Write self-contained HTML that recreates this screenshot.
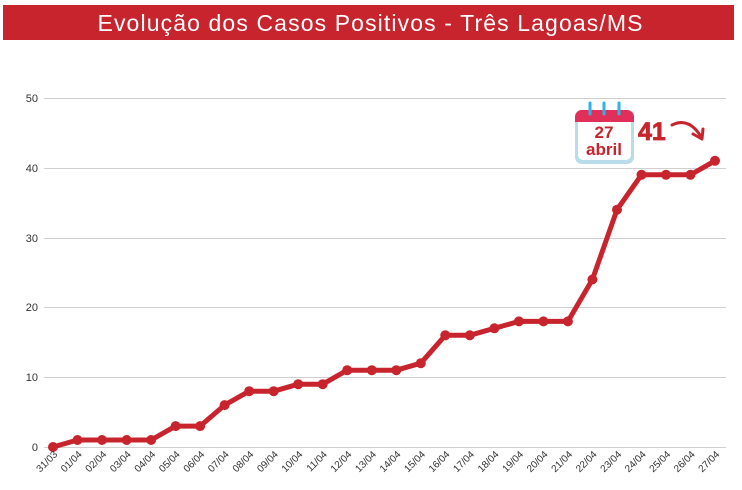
<!DOCTYPE html>
<html><head><meta charset="utf-8"><style>
body{margin:0;background:#fff;width:742px;height:485px;overflow:hidden;font-family:"Liberation Sans",sans-serif}
</style></head><body>
<svg width="742" height="485" xmlns="http://www.w3.org/2000/svg" font-family="Liberation Sans, sans-serif">
<rect x="3" y="5" width="731" height="35" fill="#c8242d"/>
<text x="370" y="31" text-anchor="middle" font-size="23" fill="#fff" textLength="545">Evolução dos Casos Positivos - Três Lagoas/MS</text>
<g stroke="#d0d0d0" stroke-width="1">
<line x1="44" y1="98.5" x2="726" y2="98.5"/>
<line x1="44" y1="168.5" x2="726" y2="168.5"/>
<line x1="44" y1="238.5" x2="726" y2="238.5"/>
<line x1="44" y1="307.5" x2="726" y2="307.5"/>
<line x1="44" y1="377.5" x2="726" y2="377.5"/>
<line x1="44" y1="447.5" x2="726" y2="447.5"/>
</g>
<g font-size="11" fill="#333" text-anchor="end">
<text x="38" y="102">50</text><text x="38" y="172">40</text><text x="38" y="242">30</text>
<text x="38" y="311">20</text><text x="38" y="381">10</text><text x="38" y="451">0</text>
</g>
<g fill="none" stroke="#c8242d" stroke-width="5" stroke-linejoin="round" stroke-linecap="round">
<polyline points="53,447 77.5,440 102,440 126.6,440 151.1,440 175.6,426.1 200.1,426.1 224.6,405.1 249.2,391.2 273.7,391.2 298.2,384.2 322.7,384.2 347.2,370.2 371.8,370.2 396.3,370.2 420.8,363.2 445.3,335.3 469.8,335.3 494.4,328.3 518.9,321.4 543.4,321.4 567.9,321.4 592.4,279.5 617,209.7 641.5,174.8 666,174.8 690.5,174.8 715,160.8"/>
</g>
<g fill="#c8242d">
<circle cx="53" cy="447" r="5"/><circle cx="77.5" cy="440" r="5"/><circle cx="102" cy="440" r="5"/><circle cx="126.6" cy="440" r="5"/><circle cx="151.1" cy="440" r="5"/><circle cx="175.6" cy="426.1" r="5"/><circle cx="200.1" cy="426.1" r="5"/><circle cx="224.6" cy="405.1" r="5"/><circle cx="249.2" cy="391.2" r="5"/><circle cx="273.7" cy="391.2" r="5"/><circle cx="298.2" cy="384.2" r="5"/><circle cx="322.7" cy="384.2" r="5"/><circle cx="347.2" cy="370.2" r="5"/><circle cx="371.8" cy="370.2" r="5"/><circle cx="396.3" cy="370.2" r="5"/><circle cx="420.8" cy="363.2" r="5"/><circle cx="445.3" cy="335.3" r="5"/><circle cx="469.8" cy="335.3" r="5"/><circle cx="494.4" cy="328.3" r="5"/><circle cx="518.9" cy="321.4" r="5"/><circle cx="543.4" cy="321.4" r="5"/><circle cx="567.9" cy="321.4" r="5"/><circle cx="592.4" cy="279.5" r="5"/><circle cx="617" cy="209.7" r="5"/><circle cx="641.5" cy="174.8" r="5"/><circle cx="666" cy="174.8" r="5"/><circle cx="690.5" cy="174.8" r="5"/><circle cx="715" cy="160.8" r="5"/>
</g>
<g font-size="10" fill="#333" text-anchor="end">
<text transform="translate(58,455) rotate(-45)">31/03</text>
<text transform="translate(82.5,455) rotate(-45)">01/04</text>
<text transform="translate(107,455) rotate(-45)">02/04</text>
<text transform="translate(131.6,455) rotate(-45)">03/04</text>
<text transform="translate(156.1,455) rotate(-45)">04/04</text>
<text transform="translate(180.6,455) rotate(-45)">05/04</text>
<text transform="translate(205.1,455) rotate(-45)">06/04</text>
<text transform="translate(229.6,455) rotate(-45)">07/04</text>
<text transform="translate(254.2,455) rotate(-45)">08/04</text>
<text transform="translate(278.7,455) rotate(-45)">09/04</text>
<text transform="translate(303.2,455) rotate(-45)">10/04</text>
<text transform="translate(327.7,455) rotate(-45)">11/04</text>
<text transform="translate(352.2,455) rotate(-45)">12/04</text>
<text transform="translate(376.8,455) rotate(-45)">13/04</text>
<text transform="translate(401.3,455) rotate(-45)">14/04</text>
<text transform="translate(425.8,455) rotate(-45)">15/04</text>
<text transform="translate(450.3,455) rotate(-45)">16/04</text>
<text transform="translate(474.8,455) rotate(-45)">17/04</text>
<text transform="translate(499.4,455) rotate(-45)">18/04</text>
<text transform="translate(523.9,455) rotate(-45)">19/04</text>
<text transform="translate(548.4,455) rotate(-45)">20/04</text>
<text transform="translate(572.9,455) rotate(-45)">21/04</text>
<text transform="translate(597.4,455) rotate(-45)">22/04</text>
<text transform="translate(622,455) rotate(-45)">23/04</text>
<text transform="translate(646.5,455) rotate(-45)">24/04</text>
<text transform="translate(671,455) rotate(-45)">25/04</text>
<text transform="translate(695.5,455) rotate(-45)">26/04</text>
<text transform="translate(720,455) rotate(-45)">27/04</text>
</g>
<!-- calendar -->
<rect x="575" y="110" width="59" height="54" rx="7" fill="#b9dcea"/>
<rect x="578" y="113" width="53" height="47" rx="5" fill="#fff"/>
<path d="M575,117 a7,7 0 0 1 7,-7 h45 a7,7 0 0 1 7,7 v5 h-59 z" fill="#e0305a"/>
<g stroke="#2eb2e8" stroke-width="3" stroke-linecap="round">
<line x1="590" y1="103" x2="590" y2="114"/><line x1="604" y1="103" x2="604" y2="114"/><line x1="619" y1="103" x2="619" y2="114"/>
</g>
<text x="604" y="138" text-anchor="middle" font-size="17" font-weight="bold" fill="#c8242d">27</text>
<text x="604" y="155" text-anchor="middle" font-size="17" font-weight="bold" fill="#c8242d">abril</text>
<text x="638" y="140" font-size="25" font-weight="bold" fill="#c8242d" stroke="#c8242d" stroke-width="0.8">41</text>
<path d="M672,125 Q688,117 700,135" fill="none" stroke="#c8242d" stroke-width="3" stroke-linecap="round"/>
<path d="M693,134 L702,139 L703,129" fill="none" stroke="#c8242d" stroke-width="3" stroke-linecap="round" stroke-linejoin="round"/>
</svg>
</body></html>
